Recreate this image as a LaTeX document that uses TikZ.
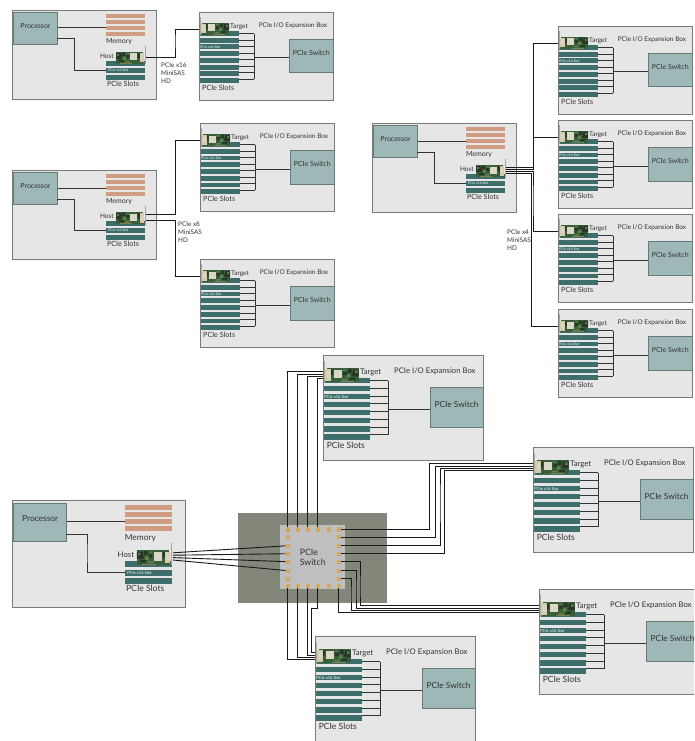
\documentclass[tikz,border=0pt]{standalone}
\usepackage{fontspec}
\setmainfont{Lato}
\usetikzlibrary{positioning}
\definecolor{boxfill}{HTML}{E6E6E6}
\definecolor{boxline}{HTML}{7A7A7A}
\definecolor{procfill}{HTML}{9DB8B6}
\definecolor{procline}{HTML}{667A78}
\definecolor{memfill}{HTML}{D09C84}
\definecolor{slotfill}{HTML}{3D6E6B}
\definecolor{olive}{HTML}{83877A}
\definecolor{padfill}{HTML}{D2A860}
\definecolor{pcb}{HTML}{3A5E3A}
\definecolor{pcbdark}{HTML}{233A28}
\definecolor{pcbmid}{HTML}{5C7F4C}
\definecolor{portfill}{HTML}{D6CBA4}
\definecolor{sinkfill}{HTML}{DAD7C8}
\definecolor{inktext}{HTML}{333333}
\tikzset{
  outerbox/.style={draw=boxline,fill=boxfill,line width=1.1pt,anchor=north west,inner sep=0pt},
  procbox/.style={draw=procline,fill=procfill,line width=1pt,anchor=north west,inner sep=0pt,
    font=\fontsize{7}{8}\selectfont,text=inktext,text depth=6pt},
  lbl/.style={font=\fontsize{6.5}{8}\selectfont,text=inktext,inner sep=0pt},
  slotlbl/.style={font=\fontsize{7.2}{8}\selectfont,text=inktext,inner sep=0pt},
  tinylbl/.style={font=\fontsize{3.4}{4}\selectfont,text=white,inner sep=0pt,anchor=west},
  cablelbl/.style={font=\fontsize{6.4}{7.7}\selectfont,text=inktext,inner sep=0pt,align=left,anchor=north west},
  wire/.style={draw=inktext,line width=1pt},
  cable/.style={draw=black!90,line width=0.9pt},
  pad/.style={fill=padfill,minimum size=4.4pt,inner sep=0pt}
}
\newcommand{\CardPic}{%
  \fill[pcb] (0,0) rectangle (27,12);
  \fill[pcbdark] (0,1) rectangle (5,7) (6,0.5) rectangle (9,4) (10,3) rectangle (13,6) (3,8) rectangle (8,10) (21.5,1) rectangle (24,6);
  \fill[pcbmid] (1,2) rectangle (3,4) (7,5) rectangle (10,8) (11,1) rectangle (13,2.5) (9,9) rectangle (14,10.5);
  \fill[red!40!black] (5,5) rectangle (6,6) (4,3) rectangle (5,4);
  \fill[yellow!45!black] (4,11) rectangle (16,12);
  \fill[sinkfill] (14,1.5) rectangle (21,8.5);
  \fill[portfill] (23.5,1) rectangle (28,10.5);
  \fill[sinkfill] (24.5,2.5) rectangle (27,8);
  \draw[gray!70,line width=0.6pt] (29,-6) -- (29,12.5);
}
\newcommand{\HostBox}[4]{%
  \begin{scope}[shift={(#2,#3)},scale=#4,transform shape]
    \node (#1-box) [outerbox,minimum width=144pt,minimum height=89pt] at (0,0) {};
    \node (#1-proc) [procbox,minimum width=44pt,minimum height=32pt] at (1,2) {Processor};
    \foreach \y in {4,10,16,22} {\fill[memfill] (94,\y) rectangle (133,\y+4);}
    \coordinate (#1-mem) at (94,18);
    \node (#1-memlbl) [lbl,font=\fontsize{7}{8}\selectfont] at (107,32) {Memory};
    \foreach \y in {51,58,65} {\fill[slotfill] (94,\y) rectangle (133,\y+5);}
    \coordinate (#1-slot) at (94,60.5);
    \node (#1-slotlbl) [slotlbl] at (111,74) {PCIe Slots};
    \node (#1-tiny) [tinylbl] at (96,60.5) {PCIe x16 Slot};
    \node (#1-hostlbl) [lbl,anchor=east] at (102,46) {Host};
    \begin{scope}[shift={(104,42)}]
      \CardPic
    \end{scope}
    \draw[wire] (#1-proc.east |- #1-mem) -- (#1-mem);
    \draw[wire] (45,29) -| (62.5,45) |- (#1-slot);
    \coordinate (#1-p0) at (134,47);
    \coordinate (#1-p1) at (134,44);
    \coordinate (#1-p2) at (134,46);
    \coordinate (#1-p3) at (134,48);
    \coordinate (#1-p4) at (134,50);
  \end{scope}
}
\newcommand{\TargetBox}[4]{%
  \begin{scope}[shift={(#2,#3)},scale=#4,transform shape]
    \node (#1-box) [outerbox,minimum width=134pt,minimum height=88pt] at (0,0) {};
    \foreach \y in {19,25.75,32.5,39.25,46,52.75,59.5,66.25} {\fill[slotfill] (0.5,\y) rectangle (39.5,\y+4.8);}
    \foreach \y in {21.6,28.1,34.6,41.1,47.6,54.1,60.6,67.2} {\draw[wire] (39.5,\y) -- (55,\y);}
    \draw[wire] (55,21.6) -- (55,67.2);
    \node (#1-switch) [procbox,minimum width=44.5pt,minimum height=33.5pt] at (89.5,27) {PCIe Switch};
    \draw[wire] (55,46) -- (#1-switch.west |- 0,46);
    \node (#1-tiny) [tinylbl] at (1,35) {PCIe x16 Slot};
    \node (#1-tgtlbl) [lbl,anchor=west] at (31,15) {Target};
    \node (#1-title) [lbl] at (94,14) {PCIe I/O Expansion Box};
    \node (#1-slotlbl) [slotlbl,anchor=west] at (3,76) {PCIe Slots};
    \begin{scope}[shift={(30,11)},xscale=-1]
      \CardPic
    \end{scope}
    \coordinate (#1-p0) at (0,17);
    \coordinate (#1-p1) at (0,14);
    \coordinate (#1-p2) at (0,16);
    \coordinate (#1-p3) at (0,18);
    \coordinate (#1-p4) at (0,20);
  \end{scope}
}
\begin{document}
\begin{tikzpicture}[x=1pt,y=-1pt]
\useasboundingbox (0,0) rectangle (694,741);
\clip (0,0) rectangle (694,741);
\HostBox{hA}{12}{10}{1}
\HostBox{hB}{12}{170}{1}
\HostBox{hC}{372}{123}{1}
\HostBox{hD}{12}{500}{1.2}
\TargetBox{tA}{199}{12}{1}
\TargetBox{tB}{200}{123}{1}
\TargetBox{tC}{200}{259}{1}
\TargetBox{tD}{558}{26}{1}
\TargetBox{tE}{558}{120}{1}
\TargetBox{tF}{558}{214}{1}
\TargetBox{tG}{558}{309}{1}
\TargetBox{tH}{323}{355}{1.19}
\TargetBox{tI}{533}{447}{1.19}
\TargetBox{tJ}{539}{589}{1.19}
\TargetBox{tK}{315}{636}{1.19}
\node (swbg) [fill=olive,minimum width=149pt,minimum height=90pt,anchor=north west,inner sep=0pt] at (238,513) {};
\node (sw) [fill=gray!50,minimum width=65pt,minimum height=64pt,anchor=north west,inner sep=0pt,
  font=\fontsize{8.8}{10.6}\selectfont,text=inktext,align=left] at (280,525) {PCIe\\Switch};
\foreach \i/\y in {1/529.3,2/537,3/545.7,4/553.7,5/561.7,6/570.7,7/578.7,8/585.7} {
  \node (sq-l\i) [pad] at (287.7,\y) {};
  \node (sq-r\i) [pad] at (338.7,\y) {};
}
\foreach \i/\x in {1/287.7,2/297.7,3/307.7,4/317.7,5/328.7,6/338.7} {
  \node (sq-t\i) [pad] at (\x,529.3) {};
  \node (sq-b\i) [pad] at (\x,585.7) {};
}
\draw[cable] (hA-p0) -| (175,40) |- (tA-p0);
\draw[cable] (hB-p1) -| (175.5,180) |- (tB-p0);
\draw[cable] (hB-p4) -| (175.5,250) |- (tC-p0);
\draw[cable] (hC-p1) -| (533.5,100) |- (tD-p0);
\draw[cable] (hC-p2) -| (533.5,150) |- (tE-p0);
\draw[cable] (hC-p3) -| (533,200) |- (tF-p0);
\draw[cable] (hC-p4) -| (531.5,250) |- (tG-p0);
\draw[cable] (hD-p1) -- (sq-l3);
\draw[cable] (hD-p2) -- (sq-l4);
\draw[cable] (hD-p3) -- (sq-l5);
\draw[cable] (hD-p4) -- (sq-l6);
\draw[cable] (sq-t1) |- (tH-p1);
\draw[cable] (sq-t2) |- (tH-p2);
\draw[cable] (sq-t3) |- (tH-p3);
\draw[cable] (sq-t4) |- (tH-p4);
\draw[cable] (sq-r1) -| (429.5,500) |- (tI-p1);
\draw[cable] (sq-r2) -| (435.5,500) |- (tI-p2);
\draw[cable] (sq-r3) -| (440,500) |- (tI-p3);
\draw[cable] (sq-r4) -| (444.5,500) |- (tI-p4);
\draw[cable] (sq-r5) -| (360,590) |- (tJ-p1);
\draw[cable] (sq-r6) -| (356,590) |- (tJ-p2);
\draw[cable] (sq-r7) -| (351,595) |- (tJ-p3);
\draw[cable] (sq-b6) |- (tJ-p4);
\draw[cable] (sq-b1) |- (tK-p4);
\draw[cable] (sq-b2) |- (tK-p3);
\draw[cable] (sq-b3) |- (tK-p2);
\draw[cable] (sq-b4) |- (311,608) |- (tK-p1);
\node (lblA) [cablelbl] at (161,63) {PCIe x16\\MiniSAS\\HD};
\node (lblB) [cablelbl] at (178,222) {PCIe x8\\MiniSAS\\HD};
\node (lblC) [cablelbl] at (507,230) {PCIe x4\\MiniSAS\\HD};
\end{tikzpicture}
\end{document}
